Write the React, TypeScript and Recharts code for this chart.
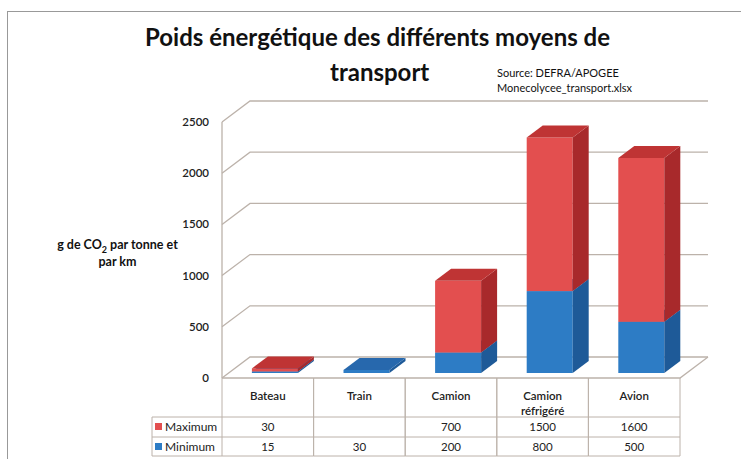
import React from 'react';
import {
  BarChart,
  Bar,
  XAxis,
  YAxis,
  CartesianGrid,
  ReferenceLine,
} from 'recharts';

// Données (g de CO2 par tonne et par km)
const categories = ['Bateau', 'Train', 'Camion', 'Camion réfrigéré', 'Avion'];
const maximumValues: (number | null)[] = [30, null, 700, 1500, 1600];
const minimumValues: (number | null)[] = [15, 30, 200, 800, 500];
const yTicks = [0, 500, 1000, 1500, 2000, 2500];
const seriesNames = { maximum: 'Maximum', minimum: 'Minimum' };

const data = categories.map((name, i) => ({
  name,
  maximum: maximumValues[i],
  minimum: minimumValues[i],
}));

const FONT = 'Lato, "Open Sans", sans-serif';
const WIDTH = 741;
const HEIGHT = 459;
const PLOT_LEFT = 222;
const PLOT_RIGHT = 680;
const COL_W = (PLOT_RIGHT - PLOT_LEFT) / categories.length;

// profondeur du "mur" 3D et des barres
const WALL_DX = 28;
const WALL_DY = 21;
const BAR_SHIFT_X = 7;
const BAR_SHIFT_Y = 5;
const BAR_DX = 16;
const BAR_DY = 12;

const GRID = '#bcb2aa';
const TEXT = '#222';

const red = { front: '#e34f4f', side: '#a8292b', top: '#bf3434' };
const blue = { front: '#2d7cc5', side: '#1e5a98', top: '#2768ad' };

const makeBox = (pal: { front: string; side: string; top: string }) => (props: any) => {
  const { x, y, width, height } = props;
  if (!height || height <= 0.1) return <g />;
  const fx = x + BAR_SHIFT_X;
  const fy = y - BAR_SHIFT_Y;
  const w = width;
  const h = height;
  return (
    <g>
      <rect x={fx} y={fy} width={w} height={h} fill={pal.front} />
      <polygon
        points={`${fx + w},${fy} ${fx + w + BAR_DX},${fy - BAR_DY} ${fx + w + BAR_DX},${fy + h - BAR_DY} ${fx + w},${fy + h}`}
        fill={pal.side}
      />
      <polygon
        points={`${fx},${fy} ${fx + w},${fy} ${fx + w + BAR_DX},${fy - BAR_DY} ${fx + BAR_DX},${fy - BAR_DY}`}
        fill={pal.top}
      />
    </g>
  );
};

const RedBox = makeBox(red);
const BlueBox = makeBox(blue);

// lignes de la grille : coin gauche + mur du fond
const wallLine = (props: any) => {
  const { x1, y1, x2, y2 } = props;
  return (
    <path
      key={`wall-${y1}`}
      d={`M${x1},${y1} L${x1 + WALL_DX},${y1 - WALL_DY} L${x2 + WALL_DX},${y2 - WALL_DY}`}
      stroke={GRID}
      strokeWidth={1.3}
      fill="none"
    />
  );
};

const FloorLine = (props: any) => {
  const { x1, y1, x2, y2 } = props;
  return (
    <path
      d={`M${x1},${y1} L${x2},${y2} L${x2 + WALL_DX},${y2 - WALL_DY}`}
      stroke={GRID}
      strokeWidth={1.3}
      fill="none"
    />
  );
};

const fmt = (v: number | null) => (v === null || v === undefined ? '' : String(v));

// tableau de données sous l'axe des X
const TableTick = (props: any) => {
  const { x, y, payload } = props;
  const i = categories.indexOf(payload.value);
  const left = x - COL_W / 2;
  const right = x + COL_W / 2;
  const top = y;
  const r1 = top + 39;
  const r2 = top + 59;
  const r3 = top + 78;
  const words = String(payload.value).split(' ');
  return (
    <g fontFamily={FONT} fontSize={11.5} fill={TEXT}>
      <line x1={left} y1={top} x2={left} y2={r3} stroke={GRID} />
      <line x1={right} y1={top} x2={right} y2={r3} stroke={GRID} />
      <line x1={left} y1={r1} x2={right} y2={r1} stroke={GRID} />
      <line x1={left} y1={r2} x2={right} y2={r2} stroke={GRID} />
      <line x1={left} y1={r3} x2={right} y2={r3} stroke={GRID} />
      {words.length > 1 ? (
        <>
          <text x={x} y={top + 22} textAnchor="middle" fontWeight={600}>{words[0]}</text>
          <text x={x} y={top + 37} textAnchor="middle" fontWeight={600}>{words.slice(1).join(' ')}</text>
        </>
      ) : (
        <text x={x} y={top + 22} textAnchor="middle" fontWeight={600}>{payload.value}</text>
      )}
      <text x={x} y={r1 + 14} textAnchor="middle">{fmt(maximumValues[i])}</text>
      <text x={x} y={r2 + 14} textAnchor="middle">{fmt(minimumValues[i])}</text>
      {i === 0 && (
        <g>
          <line x1={left - 70} y1={r1} x2={left} y2={r1} stroke={GRID} />
          <line x1={left - 70} y1={r2} x2={left} y2={r2} stroke={GRID} />
          <line x1={left - 70} y1={r3} x2={left} y2={r3} stroke={GRID} />
          <line x1={left - 70} y1={r1} x2={left - 70} y2={r3} stroke={GRID} />
          <rect x={left - 67} y={r1 + 6} width={7} height={7} fill={red.front} />
          <rect x={left - 67} y={r2 + 6} width={7} height={7} fill={blue.front} />
          <text x={left - 57} y={r1 + 14} fontSize={12}>{seriesNames.maximum}</text>
          <text x={left - 57} y={r2 + 14} fontSize={12}>{seriesNames.minimum}</text>
        </g>
      )}
    </g>
  );
};

export default function App() {
  return (
    <div
      style={{
        position: 'absolute',
        left: 0,
        top: 0,
        width: WIDTH,
        height: HEIGHT,
        background: '#fff',
        overflow: 'hidden',
        fontFamily: FONT,
      }}
    >
      {/* cadre */}
      <div
        style={{
          position: 'absolute',
          left: 7,
          top: 11,
          width: WIDTH,
          height: HEIGHT,
          borderLeft: '1.5px solid #999',
          borderTop: '1.5px solid #999',
        }}
      />
      <div
        style={{
          position: 'absolute',
          left: 0,
          width: 755,
          top: 20,
          textAlign: 'center',
          fontSize: 24,
          fontWeight: 700,
          color: '#111',
          lineHeight: '34px',
        }}
      >
        Poids énergétique des différents moyens de
      </div>
      <div
        style={{
          position: 'absolute',
          left: 330,
          top: 55,
          fontSize: 24,
          fontWeight: 700,
          color: '#111',
          lineHeight: '34px',
        }}
      >
        transport
      </div>
      <div
        style={{
          position: 'absolute',
          left: 497,
          top: 65,
          fontSize: 11,
          color: '#111',
          lineHeight: '15px',
        }}
      >
        Source: DEFRA/APOGEE
        <br />
        Monecolycee_transport.xlsx
      </div>
      <div
        style={{
          position: 'absolute',
          left: 40,
          width: 155,
          top: 236,
          textAlign: 'center',
          fontSize: 12.5,
          fontWeight: 700,
          color: '#111',
          lineHeight: '17px',
        }}
      >
        g de CO<sub style={{ fontSize: 9, lineHeight: 0 }}>2</sub> par tonne et
        <br />
        par km
      </div>
      <div style={{ position: 'absolute', left: 0, top: 0 }}>
        <BarChart
          width={WIDTH}
          height={HEIGHT}
          data={data}
          margin={{ top: 122, right: WIDTH - PLOT_RIGHT, bottom: 0, left: 0 }}
          barCategoryGap="25%"
        >
          <CartesianGrid horizontal={wallLine} vertical={false} />
          <ReferenceLine y={0} shape={<FloorLine />} />
          <XAxis
            dataKey="name"
            height={81}
            interval={0}
            tickLine={false}
            axisLine={false}
            tickSize={0}
            tickMargin={0}
            tick={<TableTick />}
          />
          <YAxis
            width={PLOT_LEFT}
            domain={[0, 2500]}
            ticks={yTicks}
            tickLine={false}
            tickMargin={7}
            axisLine={{ stroke: GRID, strokeWidth: 1.3 }}
            tick={{ fontSize: 11.5, fontWeight: 600, fill: TEXT, fontFamily: FONT }}
          />
          <Bar
            dataKey="minimum"
            name={seriesNames.minimum}
            stackId="s"
            fill={blue.front}
            shape={BlueBox}
            isAnimationActive={false}
          />
          <Bar
            dataKey="maximum"
            name={seriesNames.maximum}
            stackId="s"
            fill={red.front}
            shape={RedBox}
            isAnimationActive={false}
          />
        </BarChart>
      </div>
    </div>
  );
}
